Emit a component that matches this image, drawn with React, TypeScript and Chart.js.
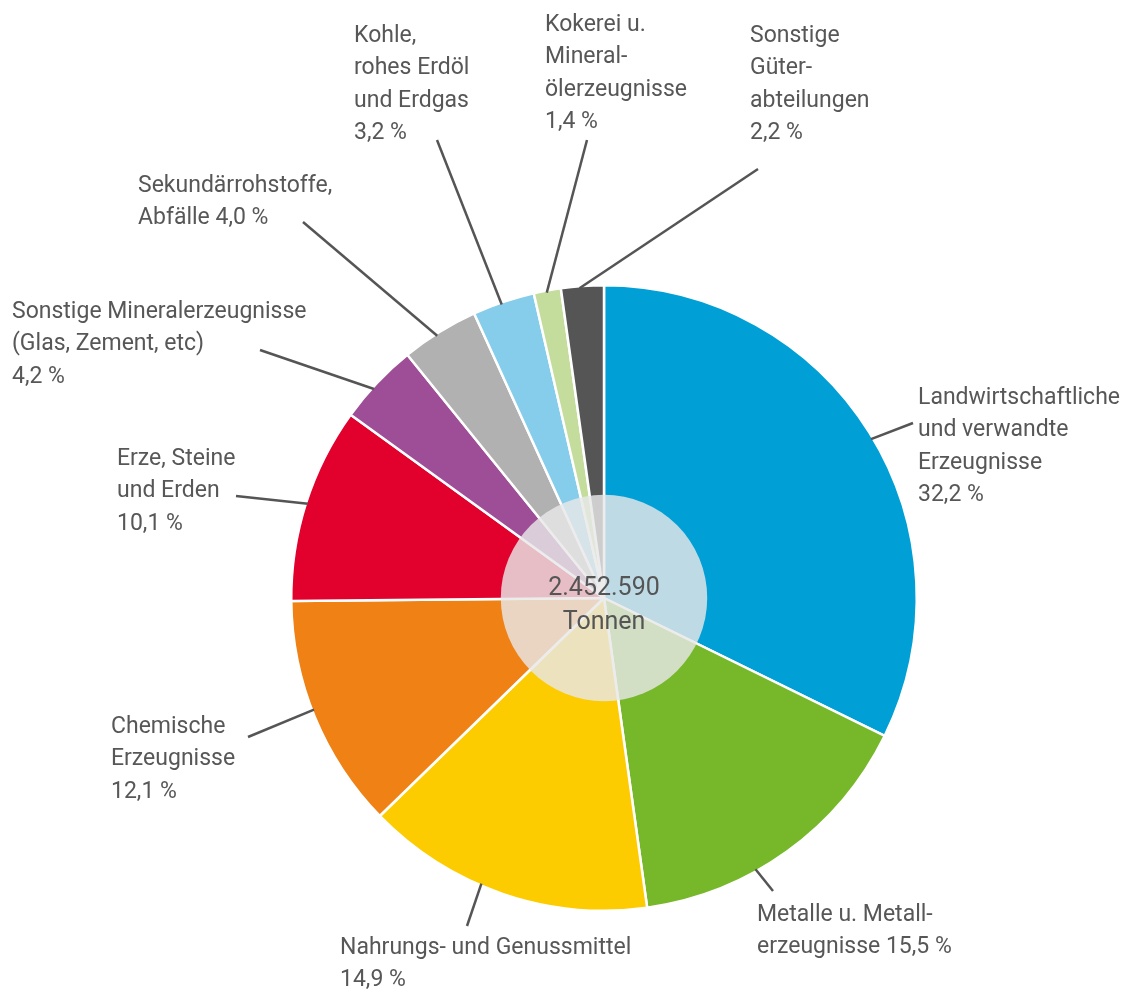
import React, { useEffect, useRef } from "react";
import { Chart, registerables } from "chart.js";

Chart.register(...registerables);

const categories = [
  "Landwirtschaftliche und verwandte Erzeugnisse",
  "Metalle u. Metallerzeugnisse",
  "Nahrungs- und Genussmittel",
  "Chemische Erzeugnisse",
  "Erze, Steine und Erden",
  "Sonstige Mineralerzeugnisse (Glas, Zement, etc)",
  "Sekundärrohstoffe, Abfälle",
  "Kohle, rohes Erdöl und Erdgas",
  "Kokerei u. Mineralölerzeugnisse",
  "Sonstige Güterabteilungen",
];

const values = [32.2, 15.5, 14.9, 12.1, 10.1, 4.2, 4.0, 3.2, 1.4, 2.2];

const colors = [
  "#009fd6",
  "#76b82a",
  "#fdcc00",
  "#ef8115",
  "#e2002d",
  "#9e4e96",
  "#b1b1b1",
  "#85cdea",
  "#c4dd9c",
  "#555555",
];

const labelLines = [
  ["Landwirtschaftliche", "und verwandte", "Erzeugnisse", "{v} %"],
  ["Metalle u. Metall-", "erzeugnisse {v} %"],
  ["Nahrungs- und Genussmittel", "{v} %"],
  ["Chemische", "Erzeugnisse", "{v} %"],
  ["Erze, Steine", "und Erden", "{v} %"],
  ["Sonstige Mineralerzeugnisse", "(Glas, Zement, etc)", "{v} %"],
  ["Sekundärrohstoffe,", "Abfälle {v} %"],
  ["Kohle,", "rohes Erdöl", "und Erdgas", "{v} %"],
  ["Kokerei u.", "Mineral-", "ölerzeugnisse", "{v} %"],
  ["Sonstige", "Güter-", "abteilungen", "{v} %"],
];

const totalTonnes = 2452590;
const totalUnit = "Tonnen";

// layout of the outside labels: text block position, leader line end,
// and where along the slice (fraction of its angle) the leader touches it
const labelPos = [
  { x: 918, y: 404, lx: 913, ly: 423, t: 0.51 },
  { x: 757, y: 921, lx: 773, ly: 891, t: 0.62 },
  { x: 340, y: 954, lx: 467, ly: 926, t: 0.58 },
  { x: 111, y: 733, lx: 248, ly: 737, t: 0.53 },
  { x: 117, y: 465, lx: 236, ly: 496, t: 0.5 },
  { x: 12, y: 318, lx: 260, ly: 350, t: 0.42 },
  { x: 138, y: 192, lx: 303, ly: 222, t: 0.45 },
  { x: 354, y: 42, lx: 437, ly: 140, t: 0.46 },
  { x: 545, y: 31, lx: 587, ly: 140, t: 0.47 },
  { x: 750, y: 42, lx: 758, ly: 169, t: 0.43 },
];

const FONT = "Roboto, 'Open Sans', sans-serif";
const TEXT_COLOR = "#575757";
const LINE_H = 32.3;

function fmtPct(v: number): string {
  return v.toFixed(1).replace(".", ",");
}

function fmtThousands(n: number): string {
  return String(n).replace(/\B(?=(\d{3})+(?!\d))/g, ".");
}

const labelsPlugin = {
  id: "pieLabels",
  afterDatasetsDraw(chart: any) {
    const ctx = chart.ctx;
    const meta = chart.getDatasetMeta(0);
    if (!meta || !meta.data.length) return;
    const first = meta.data[0].getProps(["x", "y", "outerRadius"], true);
    const cx = first.x;
    const cy = first.y;
    const R = first.outerRadius;

    // center translucent disc
    ctx.save();
    ctx.beginPath();
    ctx.arc(cx, cy, R * 0.33, 0, Math.PI * 2);
    ctx.fillStyle = "rgba(232,232,232,0.82)";
    ctx.fill();
    ctx.restore();

    // center text
    ctx.save();
    ctx.fillStyle = "#555555";
    ctx.font = `25px ${FONT}`;
    ctx.textAlign = "center";
    ctx.textBaseline = "alphabetic";
    ctx.fillText(fmtThousands(totalTonnes), cx, cy - 3);
    ctx.fillText(totalUnit, cx, cy + 31);
    ctx.restore();

    // leader lines and labels
    ctx.save();
    ctx.strokeStyle = "#555555";
    ctx.lineWidth = 2.5;
    ctx.fillStyle = TEXT_COLOR;
    ctx.font = `23px ${FONT}`;
    ctx.textAlign = "left";
    ctx.textBaseline = "alphabetic";
    meta.data.forEach((arc: any, i: number) => {
      const p = arc.getProps(["x", "y", "startAngle", "endAngle", "outerRadius"], true);
      const pos = labelPos[i];
      const a = p.startAngle + (p.endAngle - p.startAngle) * pos.t;
      const r = p.outerRadius - 2;
      const sx = p.x + Math.cos(a) * r;
      const sy = p.y + Math.sin(a) * r;
      ctx.beginPath();
      ctx.moveTo(sx, sy);
      ctx.lineTo(pos.lx, pos.ly);
      ctx.stroke();
      labelLines[i].forEach((line, j) => {
        ctx.fillText(line.replace("{v}", fmtPct(values[i])), pos.x, pos.y + j * LINE_H);
      });
    });
    ctx.restore();
  },
};

export default function App() {
  const canvasRef = useRef<HTMLCanvasElement | null>(null);

  useEffect(() => {
    if (!canvasRef.current) return;
    const chart = new Chart(canvasRef.current, {
      type: "pie",
      data: {
        labels: categories,
        datasets: [
          {
            data: values,
            backgroundColor: colors,
            borderColor: "#ffffff",
            borderWidth: 2.5,
          },
        ],
      },
      options: {
        responsive: false,
        animation: false,
        layout: { padding: { left: 290, right: 216, top: 284, bottom: 79 } },
        plugins: {
          legend: { display: false },
          tooltip: { enabled: false },
        },
      },
      plugins: [labelsPlugin],
    });
    return () => chart.destroy();
  }, []);

  return (
    <div style={{ position: "fixed", left: 0, top: 0, width: 1134, height: 991, background: "#ffffff" }}>
      <canvas ref={canvasRef} width={1134} height={991} style={{ width: 1134, height: 991 }} />
    </div>
  );
}
